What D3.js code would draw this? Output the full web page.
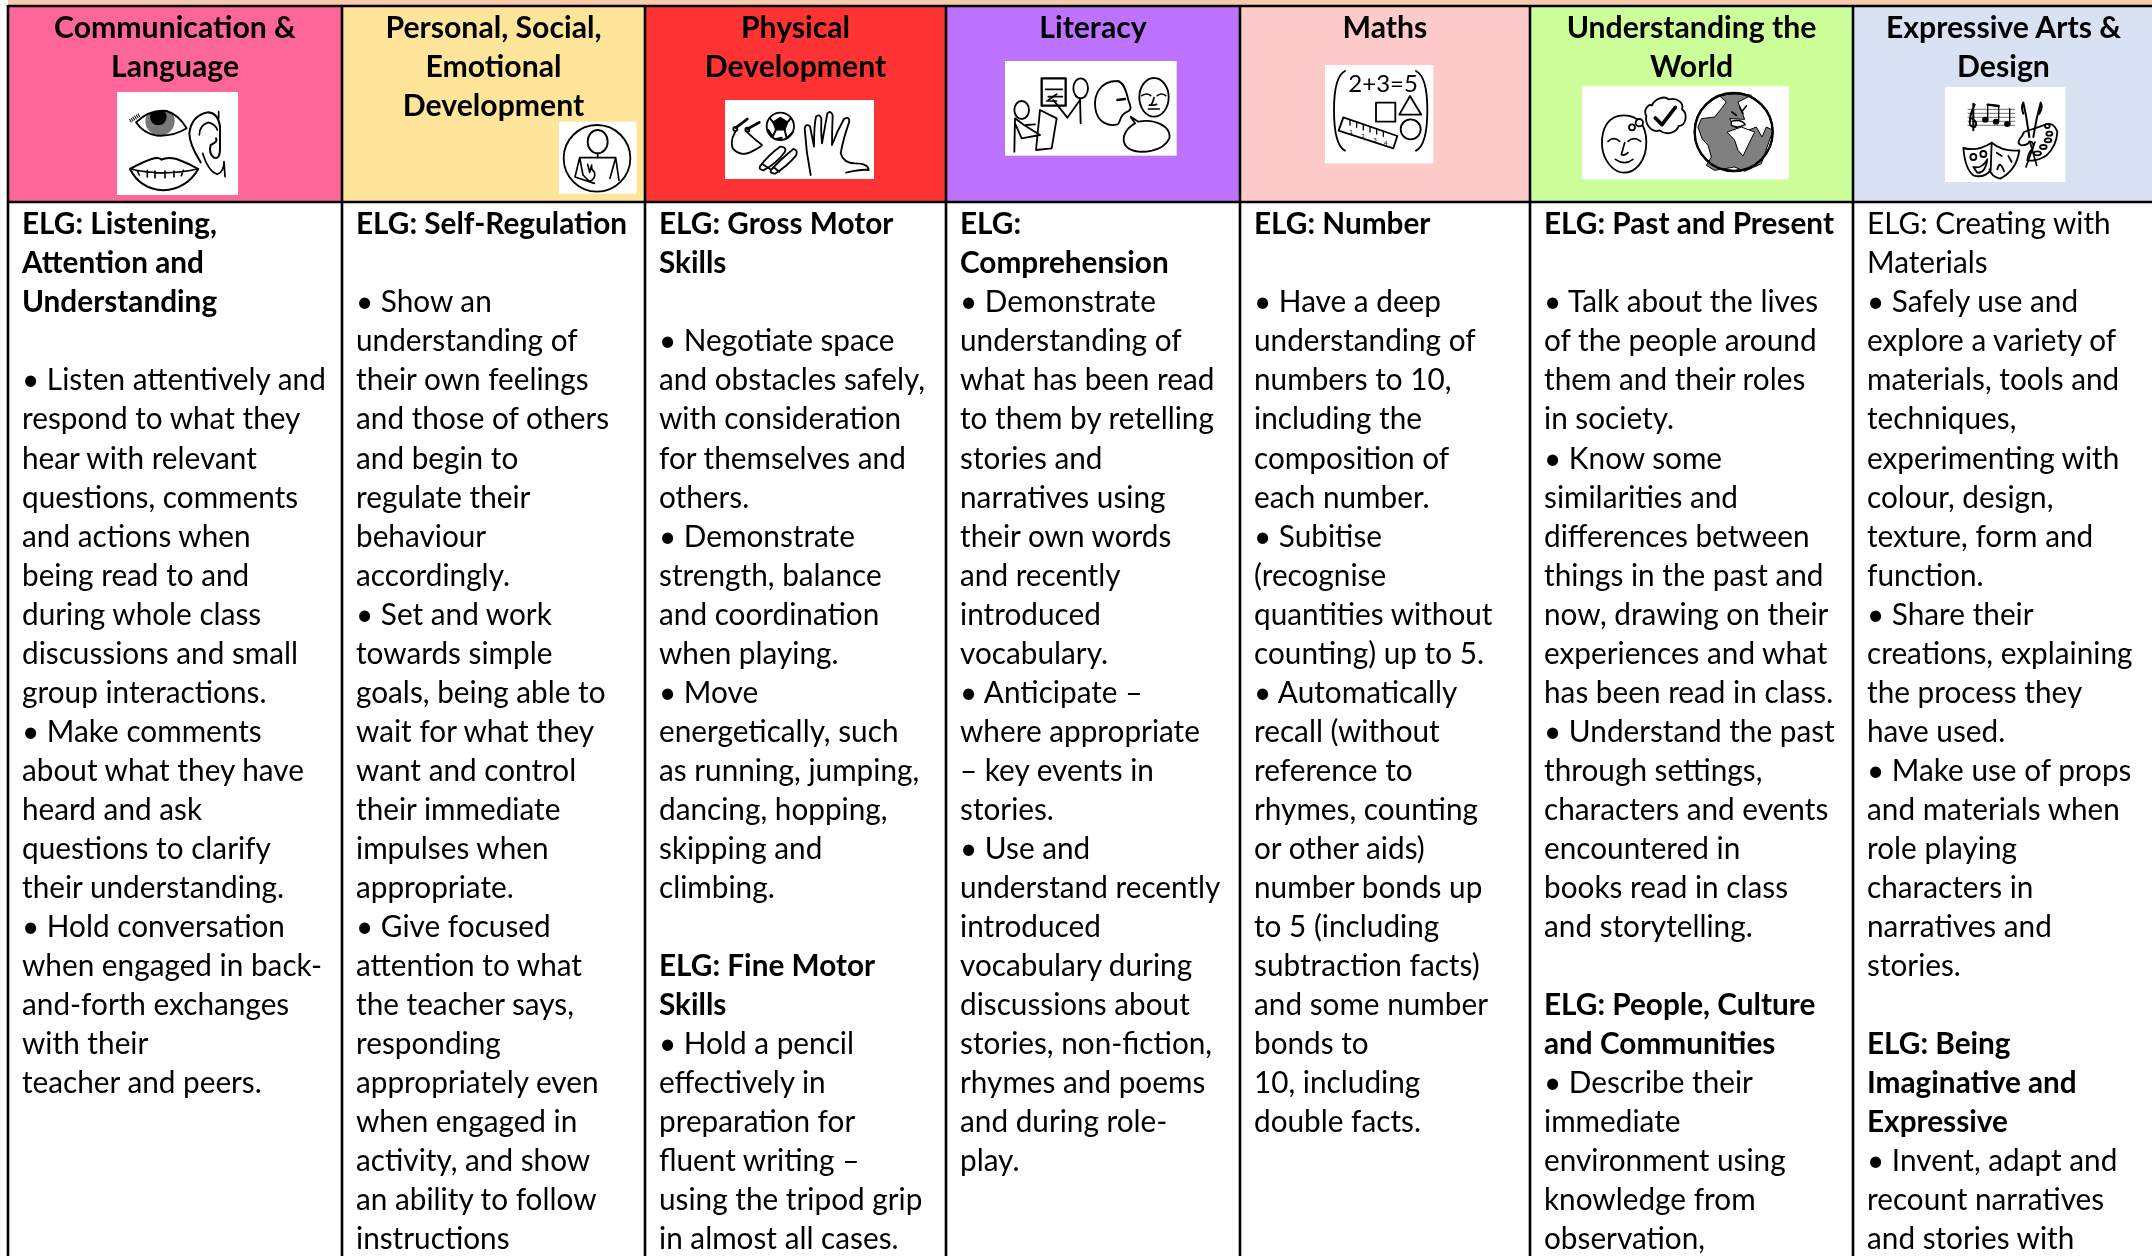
<!DOCTYPE html>
<html><head><meta charset="utf-8">
<script src="https://cdn.jsdelivr.net/npm/d3@7"></script>
<style>html,body{margin:0;padding:0;background:#fff}svg{display:block}</style>
</head><body><div id="chart"></div>
<script>
const headers = [
 ["Communication &","Language"],
 ["Personal, Social,","Emotional","Development"],
 ["Physical","Development"],
 ["Literacy"],
 ["Maths"],
 ["Understanding the","World"],
 ["Expressive Arts &","Design"]];
const col1 = ["ELG: Listening,","Attention and","Understanding","","• Listen attentively and","respond to what they","hear with relevant","questions, comments","and actions when","being read to and","during whole class","discussions and small","group interactions.","• Make comments","about what they have","heard and ask","questions to clarify","their understanding.","• Hold conversation","when engaged in back-","and-forth exchanges","with their","teacher and peers."];
const col2 = ["ELG: Self-Regulation","","• Show an","understanding of","their own feelings","and those of others","and begin to","regulate their","behaviour","accordingly.","• Set and work","towards simple","goals, being able to","wait for what they","want and control","their immediate","impulses when","appropriate.","• Give focused","attention to what","the teacher says,","responding","appropriately even","when engaged in","activity, and show","an ability to follow","instructions"];
const col3 = ["ELG: Gross Motor","Skills","","• Negotiate space","and obstacles safely,","with consideration","for themselves and","others.","• Demonstrate","strength, balance","and coordination","when playing.","• Move","energetically, such","as running, jumping,","dancing, hopping,","skipping and","climbing.","","ELG: Fine Motor","Skills","• Hold a pencil","effectively in","preparation for","fluent writing –","using the tripod grip","in almost all cases."];
const col4 = ["ELG:","Comprehension","• Demonstrate","understanding of","what has been read","to them by retelling","stories and","narratives using","their own words","and recently","introduced","vocabulary.","• Anticipate –","where appropriate","– key events in","stories.","• Use and","understand recently","introduced","vocabulary during","discussions about","stories, non-fiction,","rhymes and poems","and during role-","play."];
const col5 = ["ELG: Number","","• Have a deep","understanding of","numbers to 10,","including the","composition of","each number.","• Subitise","(recognise","quantities without","counting) up to 5.","• Automatically","recall (without","reference to","rhymes, counting","or other aids)","number bonds up","to 5 (including","subtraction facts)","and some number","bonds to","10, including","double facts."];
const col6 = ["ELG: Past and Present","","• Talk about the lives","of the people around","them and their roles","in society.","• Know some","similarities and","differences between","things in the past and","now, drawing on their","experiences and what","has been read in class.","• Understand the past","through settings,","characters and events","encountered in","books read in class","and storytelling.","","ELG: People, Culture","and Communities","• Describe their","immediate","environment using","knowledge from","observation,"];
const col7 = ["ELG: Creating with","Materials","• Safely use and","explore a variety of","materials, tools and","techniques,","experimenting with","colour, design,","texture, form and","function.","• Share their","creations, explaining","the process they","have used.","• Make use of props","and materials when","role playing","characters in","narratives and","stories.","","ELG: Being","Imaginative and","Expressive","• Invent, adapt and","recount narratives","and stories with"];
const columns = [col1,col2,col3,col4,col5,col6,col7];
const boldRows = [[0,1,2],[0],[0,1,19,20],[0,1],[0],[0,20,21],[21,22,23]];
const headerFills = ["#ff6699","#ffe599","#ff3333","#bd73ff","#ffcaca","#ccff99","#d9e2f3"];

const W=2152,H=1256;
const edges=[8,342,645,946,1240,1530,1853,2154];
const headerBottom=202, topLine=6;
const FS=30.2, SX=0.985, SXH=1.0;
const svg=d3.select("#chart").append("svg").attr("width",W).attr("height",H).attr("viewBox",`0 0 ${W} ${H}`);
const rowY=d3.scaleLinear().domain([0,1]).range([234.3,273.34]);
const headY=d3.scaleLinear().domain([0,1]).range([38,77]);
const colIdx=d3.range(7);

svg.append("rect").attr("x",edges[0]).attr("y",0).attr("width",W-edges[0]).attr("height",topLine).attr("fill","#f8cbad");
svg.selectAll("rect.head").data(colIdx).join("rect").attr("class","head")
  .attr("x",i=>edges[i]).attr("y",topLine).attr("width",i=>edges[i+1]-edges[i]).attr("height",headerBottom-topLine)
  .attr("fill",i=>headerFills[i]);

// icons: each drawn in a local space 3x the page scale
const ST=5.5;
function icon(ox,oy,box){
  const g=svg.append("g").attr("transform",`translate(${ox},${oy}) scale(${1/3})`);
  g.append("rect").attr("x",box[0]).attr("y",box[1]).attr("width",box[2]-box[0]).attr("height",box[3]-box[1]).attr("fill","#fff");
  const art=g.append("g").attr("fill","none").attr("stroke","#000").attr("stroke-width",ST).attr("stroke-linecap","round").attr("stroke-linejoin","round").attr("filter","url(#soft)");
  return {p:(d,o={})=>{const e=art.append("path").attr("d",d);Object.entries(o).forEach(([k,v])=>e.attr(k,v));return e;},
          c:(x,y,r,o={})=>{const e=art.append("circle").attr("cx",x).attr("cy",y).attr("r",r);Object.entries(o).forEach(([k,v])=>e.attr(k,v));return e;},
          e:(x,y,rx,ry,o={})=>{const e=art.append("ellipse").attr("cx",x).attr("cy",y).attr("rx",rx).attr("ry",ry);Object.entries(o).forEach(([k,v])=>e.attr(k,v));return e;},
          t:(x,y,s,fs)=>art.append("text").attr("x",x).attr("y",y).attr("font-family","Lato").attr("font-size",fs).attr("fill","#000").attr("stroke","none").text(s),
          art};
}
const defs=svg.append("defs");
defs.append("filter").attr("id","soft").append("feGaussianBlur").attr("stdDeviation",1.2);
defs.append("filter").attr("id","softText").append("feGaussianBlur").attr("stdDeviation",0.3);
defs.append("clipPath").attr("id","eyeClip").append("path").attr("d","M78 112Q120 72 170 78Q205 88 230 130Q190 155 140 152Q100 145 78 112Z");

// eye, ear, mouth
(()=>{const k=icon(110,85,[21,21,384,330]);
 k.art.append("g").attr("clip-path","url(#eyeClip)").call(s=>{
   s.append("circle").attr("cx",150).attr("cy",108).attr("r",44).attr("fill","#777").attr("stroke","none");
   s.append("circle").attr("cx",145).attr("cy",96).attr("r",25).attr("fill","#000").attr("stroke","none");});
 k.p("M78 112Q120 72 170 78Q205 88 230 130Q190 155 140 152Q100 145 78 112Z");
 k.p("M60 108L88 90",{"stroke-width":12,"stroke-dasharray":"3 3","stroke-linecap":"butt"});
 k.p("M272 232Q238 178 238 145Q245 90 295 82Q325 85 330 125L330 190Q330 225 312 218Q295 205 302 180Q325 170 318 160",{"stroke-width":6});
 k.p("M326 80L326 100M268 150Q268 120 295 112Q318 118 322 135M278 205Q295 260 322 268Q342 260 342 230L345 275",{"stroke-width":5});
 k.p("M60 252Q100 230 125 222Q145 215 155 224Q170 215 200 222Q235 235 265 252Q230 312 160 316Q90 312 60 252Z",{"stroke-width":6});
 k.p("M62 252Q160 275 262 252M82 258L88 270M112 256V276M135 258V278M165 258V278M192 258V276M220 256L214 272",{"stroke-width":5});
})();
// person in circle
(()=>{const k=icon(555,115,[12,20,244,236]);
 k.c(126,130,100);k.e(128,80,30,35);
 k.p("M128 115V128M74 128H182M74 128L60 186L118 205M182 128L165 190M182 128L192 196M74 128L84 180L104 200Q124 190 118 170Q108 165 110 150L104 172L98 148",{"stroke-width":5});
})();
// rope, ball, shoes, hand
(()=>{const k=icon(720,95,[15,15,462,252]);
 k.p("M48 98L82 72M82 102L118 82",{"stroke-width":8});
 k.c(46,102,6);k.c(82,104,6);
 k.p("M46 110Q30 135 38 160Q60 185 90 172Q125 155 126 150Q100 130 82 112");
 k.c(181,94,41);
 k.p("M181 68L160 82L168 104L194 104L202 82Z",{fill:"#000"});
 k.p("M150 70L160 82M212 70L202 82M145 105L158 125L168 104M194 104L200 130L220 110M170 132L185 128",{"stroke-width":6});
 k.p("M120 214Q145 180 180 155Q200 155 195 170Q170 205 130 226Q116 224 120 214ZM152 226Q180 195 220 162Q235 165 228 182Q200 215 165 236Q150 236 152 226Z");
 k.p("M128 208L150 222M160 216L178 230");
 k.p("M272 240Q258 170 254 100Q258 84 270 94Q276 125 282 155Q282 90 288 65Q298 55 304 70Q302 110 306 145Q314 100 322 55Q332 45 338 60Q336 110 336 150Q350 110 372 72Q388 62 388 80Q370 130 362 175Q370 205 405 205Q445 205 446 225Q425 222 378 233");
})();
// two people, talkers
(()=>{const k=icon(1000,55,[15,18,530,302]);
 k.p("M125 70H197V152H125Z",{"stroke-width":7});
 k.p("M137 103H187M145 125H187M140 138H170",{"stroke-width":5});
 k.p("M145 135L170 118");
 k.e(242,100,22,30);
 k.p("M240 130L242 205M240 135L202 188L160 135");
 k.e(65,165,22,27);
 k.p("M43 290L45 190L72 210M72 210L120 240L65 250L45 205M120 165L108 285L155 280L170 190Q150 180 120 165ZM105 208L78 210");
 k.p("M352 78C300 78 280 120 286 160C292 205 330 215 352 208C362 205 358 180 378 172C398 165 392 155 385 135C378 105 370 80 352 78Z");
 k.p("M352 135L375 132",{"stroke-width":7});
 k.e(462,127,44,58);
 k.p("M425 122Q440 112 452 122M472 122Q485 112 497 122M462 128Q455 155 448 150Q455 152 470 148M445 162H478",{"stroke-width":5});
 k.p("M392 185L405 205C370 225 360 260 385 280C420 300 490 290 508 250C515 215 465 190 415 200Z");
})();
// maths
(()=>{const k=icon(1320,60,[15,15,340,310]);
 k.p("M75 33Q42 50 42 150Q42 255 75 272M288 33Q322 50 322 150Q322 255 288 272");
 k.t(85,95,"2+3=5",72);
 k.p("M168 128H226V185H168ZM238 164L270 108L304 164Z");
 k.c(272,208,30);
 k.p("M70 172L232 228L220 265L56 212Z");
 k.p("M90 180V195M110 186V202M130 193V210M150 200V216M170 207V222M190 214V229",{"stroke-width":4});
 k.t(88,222,"1",18);k.t(124,235,"2",18);k.t(160,245,"3",18);k.t(192,254,"4",18);
})();
// face, thought, globe
(()=>{const k=icon(1578,82,[12,12,633,292]);
 k.p("M138 100C90 100 70 140 72 190C75 240 110 272 138 272C170 272 205 240 205 180C205 130 180 100 138 100Z");
 k.p("M90 178Q108 162 125 178M150 178Q168 162 188 178",{"stroke-width":5});
 k.p("M140 182L130 218Q140 222 150 212M112 232Q140 252 165 232",{"stroke-width":5});
 k.c(162,136,9,{fill:"#fff"});k.c(184,122,11,{fill:"#fff"});
 k.p("M222 70C230 50 260 40 272 52C300 45 318 65 312 82C330 95 325 130 302 132C295 155 262 160 245 145C220 155 200 125 205 102C195 85 210 65 222 70Z");
 k.p("M232 108L252 128L292 76",{"stroke-width":11});
 k.c(467,150,117,{fill:"#fff"});
 k.p("M425 42L445 60L430 80L410 105L370 110L360 135L372 170L390 190L400 225L385 250L410 265L470 255L500 268L550 245L585 145L565 135L552 165L535 135L510 145L470 135L455 110L500 112L480 60L520 40Q470 30 425 42Z",{fill:"#808080","stroke-width":3});
 k.p("M448 150L490 135L530 150L510 190L495 222L480 205L470 175Z",{fill:"#fff","stroke-width":3});
 k.p("M460 118Q490 110 502 128Q480 140 460 130Z",{fill:"#fff","stroke-width":4});
 k.p("M462 90L475 100M485 75L495 95M505 72L495 85",{"stroke-width":5});
 k.c(467,150,117,{"stroke-width":7});
})();
// music, masks, palette
(()=>{const k=icon(1940,82,[15,15,376,300]);
 k.p("M84 82H224M84 94H224M84 106H224M84 118H224M84 130H224",{"stroke-width":2.5,stroke:"#555"});
 k.p("M104 68Q90 95 90 115Q85 135 105 135Q115 120 96 110M100 65V145",{"stroke-width":6});
 k.e(136,113,7,6,{fill:"#000"});k.e(168,119,7,6,{fill:"#000"});k.e(202,126,7,6,{fill:"#000"});
 k.p("M143 113V68L176 72V119M209 126V80",{"stroke-width":4});
 k.p("M143 68L176 72",{"stroke-width":7});
 k.p("M70 198Q110 210 155 182L152 265Q130 290 100 280Q75 260 70 198Z");
 k.p("M155 182Q190 210 238 205Q230 265 180 290Q155 285 148 262");
 k.c(100,225,9);k.c(130,216,9);k.p("M100 255Q125 262 142 232Q135 275 112 272Z");
 k.p("M170 212L185 222M205 222L215 240M172 262Q180 232 192 268");
 k.p("M250 62L258 100L268 165M250 62Q242 75 250 95M302 62L290 110L280 165M302 62Q310 75 298 95",{"stroke-width":6});
 k.p("M252 150L246 162Q226 185 245 190Q265 190 268 178Q285 180 278 200Q265 210 262 235Q290 240 320 220Q350 190 352 150Q340 115 310 130Z");
 k.p("M285 180L258 255M270 180L290 250",{"stroke-width":5});
 k.e(322,132,7,6);k.e(328,155,9,6);k.e(324,175,10,6);k.e(310,195,10,6);k.e(292,214,11,6);
})();

// header text
const gh=svg.selectAll("g.hd").data(colIdx).join("g").attr("class","hd")
  .attr("filter","url(#softText)")
  .attr("transform",i=>`translate(${(edges[i]+edges[i+1])/2},0) scale(${SXH},1)`);
gh.selectAll("text").data(i=>headers[i]).join("text")
  .attr("y",(d,j)=>headY(j)).attr("text-anchor","middle").attr("font-family","Lato").attr("font-weight",700).attr("font-size",FS).attr("fill","#000").text(d=>d);

// body text
const gb=svg.selectAll("g.bd").data(colIdx).join("g").attr("class","bd")
  .attr("filter","url(#softText)")
  .attr("transform",i=>`translate(${edges[i]+14},0) scale(${SX},1)`);
gb.each(function(i){
  d3.select(this).selectAll("text").data(columns[i].map((s,r)=>({s,r,b:boldRows[i].includes(r)})).filter(d=>d.s)).join("text")
    .attr("y",d=>rowY(d.r)).attr("font-family","Lato").attr("font-weight",d=>d.b?700:400).attr("font-size",FS).attr("fill","#000").text(d=>d.s);
});

// rules
const rules=svg.append("g").attr("stroke","#000").attr("stroke-width",2.6);
rules.selectAll("line.v").data(edges.slice(0,-1)).join("line").attr("class","v").attr("x1",d=>d).attr("x2",d=>d).attr("y1",topLine-1).attr("y2",H);
rules.selectAll("line.h").data([topLine,headerBottom]).join("line").attr("class","h").attr("x1",edges[0]).attr("x2",W).attr("y1",d=>d).attr("y2",d=>d);
</script></body></html>
